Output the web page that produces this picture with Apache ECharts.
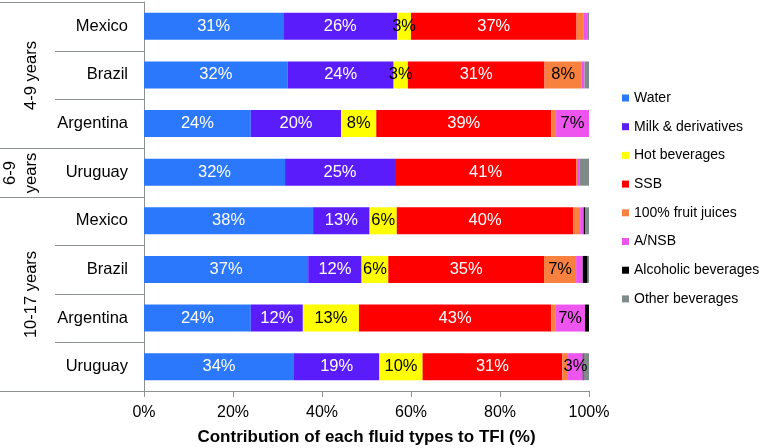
<!DOCTYPE html>
<html>
<head>
<meta charset="utf-8">
<script src="https://cdn.jsdelivr.net/npm/echarts@6/dist/echarts.min.js"></script>
<style>html,body{margin:0;padding:0;background:#fff;}#c{width:765px;height:448px;}</style>
</head>
<body>
<div id="c"></div>
<script>
const categories = ['Mexico','Brazil','Argentina','Uruguay','Mexico','Brazil','Argentina','Uruguay'];
const groupLabels = ['4-9 years', '6-9\nyears', '10-17 years'];
const groupSizes = [3, 1, 4];
const seriesNames = ['Water','Milk & derivatives','Hot beverages','SSB','100% fruit juices','A/NSB','Alcoholic beverages','Other beverages'];
const water   = [31.3, 32.3, 24.0, 31.7, 38.0, 36.9, 24.0, 33.7];
const milk    = [25.6, 23.8, 20.3, 24.7, 12.7, 12.0, 11.7, 19.2];
const hot     = [3.1, 3.2, 7.9, 0.0, 6.1, 6.0, 12.6, 9.7];
const ssb     = [37.2, 30.7, 39.3, 40.7, 39.7, 35.0, 43.2, 31.4];
const juices  = [1.5, 8.4, 1.1, 0.2, 1.5, 7.2, 0.9, 1.3];
const ansb    = [0.9, 0.6, 7.4, 0.5, 0.8, 1.5, 6.7, 3.3];
const alcohol = [0.0, 0.0, 0.0, 0.0, 0.3, 1.1, 0.9, 0.2];
const other   = [0.5, 1.0, 0.0, 2.3, 0.9, 0.3, 0.0, 1.2];
const xTicks = [0, 20, 40, 60, 80, 100];

const values = [water, milk, hot, ssb, juices, ansb, alcohol, other];
const colors = ['#2b78fc','#5a1cfb','#ffff00','#ff0000','#f98140','#ee55ee','#000000','#7f8b8b'];
const labelColors = ['#ffffff','#ffffff','#000000','#ffffff','#000000','#000000','#ffffff','#ffffff'];
const FONT = '"Liberation Sans", Arial, sans-serif';
const LINE = '#8c9292';

const chart = echarts.init(document.getElementById('c'), null, {renderer: 'canvas'});

const series = seriesNames.map((name, k) => ({
  name: name,
  type: 'bar',
  stack: 'total',
  barWidth: 27,
  data: values[k],
  itemStyle: {color: colors[k]},
  label: {
    show: true,
    position: 'inside',
    color: labelColors[k],
    fontSize: 16.5,
    fontFamily: FONT,
    formatter: p => p.value >= 2.5 ? Math.round(p.value) + '%' : ''
  },
  emphasis: {disabled: true}
}));

chart.setOption({
  animation: false,
  textStyle: {fontFamily: FONT},
  grid: {left: 144, right: 176, top: 2, bottom: 57, containLabel: false, outerBoundsMode: 'none'},
  legend: {
    orient: 'vertical',
    left: 622,
    top: 91,
    padding: 0,
    itemWidth: 7,
    itemHeight: 7,
    itemGap: 14.7,
    icon: 'rect',
    data: seriesNames,
    textStyle: {fontSize: 14, color: '#000', fontFamily: FONT, lineHeight: 14},
    selectedMode: false
  },
  xAxis: {
    type: 'value',
    min: xTicks[0], max: xTicks[xTicks.length - 1], interval: xTicks[1] - xTicks[0],
    axisLine: {show: true, lineStyle: {color: LINE}},
    axisTick: {show: true, length: 6, lineStyle: {color: LINE}},
    splitLine: {show: false},
    axisLabel: {fontSize: 16, color: '#000', margin: 14, formatter: v => v + '%', fontFamily: FONT},
    name: 'Contribution of each fluid types to TFI (%)',
    nameLocation: 'middle',
    nameGap: 38,
    nameTextStyle: {fontSize: 17, fontWeight: 'bold', color: '#000', fontFamily: FONT}
  },
  yAxis: {
    type: 'category',
    inverse: true,
    data: categories,
    axisLine: {show: true, lineStyle: {color: LINE}},
    axisTick: {show: false},
    axisLabel: {fontSize: 16.5, color: '#000', margin: 16, fontFamily: FONT}
  },
  series: series
});

// Left-hand table lines and group labels derived from the category axis
const c0 = chart.convertToPixel({yAxisIndex: 0}, 0);
const c1 = chart.convertToPixel({yAxisIndex: 0}, 1);
const band = c1 - c0;
const x0 = chart.convertToPixel({xAxisIndex: 0}, 0);
const edge = i => Math.round(c0 - band / 2 + i * band) + 0.5;
const elements = [];
const groupEdges = [0];
groupSizes.forEach(s => groupEdges.push(groupEdges[groupEdges.length - 1] + s));
for (let i = 0; i <= categories.length; i++) {
  const isGroup = groupEdges.indexOf(i) >= 0;
  elements.push({
    type: 'line',
    shape: {x1: isGroup ? 0 : 55, y1: edge(i), x2: x0, y2: edge(i)},
    style: {stroke: LINE, lineWidth: 1},
    silent: true
  });
}
groupLabels.forEach((lab, g) => {
  const yc = (edge(groupEdges[g]) + edge(groupEdges[g + 1])) / 2;
  elements.push({
    type: 'text',
    x: lab.indexOf('\n') >= 0 ? 21 : 31,
    y: yc,
    rotation: Math.PI / 2,
    style: {
      text: lab,
      fontSize: 16.5,
      fontFamily: FONT,
      fill: '#000',
      align: 'center',
      verticalAlign: 'middle',
      lineHeight: 21
    },
    silent: true
  });
});
chart.setOption({graphic: {elements: elements}});
</script>
</body>
</html>
